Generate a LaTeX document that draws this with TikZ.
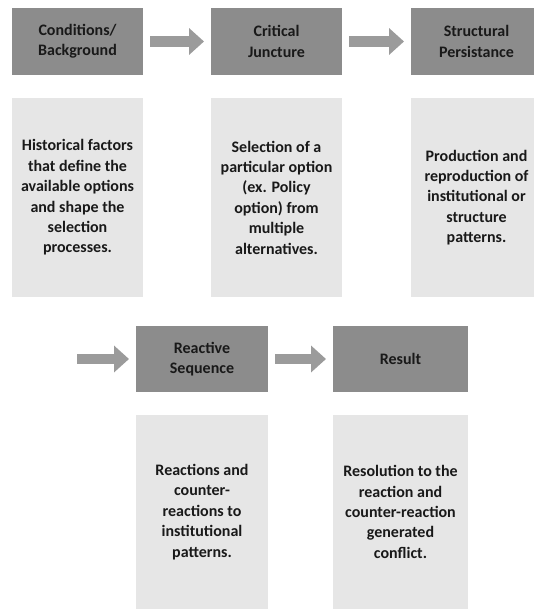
\documentclass[tikz,border=0pt]{standalone}
\usepackage{fontspec}
\setmainfont{Carlito}
\usepackage{tikz}
\usetikzlibrary{positioning,arrows.meta}
\definecolor{headgray}{HTML}{8C8C8C}
\definecolor{bodygray}{HTML}{E6E6E6}
\definecolor{arrowgray}{HTML}{9B9B9B}

\begin{document}
\begin{tikzpicture}[x=1pt,y=-1pt,
  head/.style={fill=headgray,text=black!90,minimum width=131pt,minimum height=67pt,inner sep=0pt,outer sep=0pt,align=center,font=\fontsize{16}{20.4}\selectfont\bfseries},
  body/.style={fill=bodygray,text=black!90,minimum width=131pt,minimum height=199pt,inner sep=0pt,outer sep=0pt,align=center,font=\fontsize{16}{20.4}\selectfont\bfseries},
  flow/.style={arrowgray,line width=10.5pt,shorten <=7pt,shorten >=7pt,-{Triangle[length=15pt,width=26pt]}}]
\useasboundingbox (0,0) rectangle (534,610);
\node[head] (cond) at (77.5,41.5) {Conditions/\\Background};
\node[head] (crit) at (276.5,41.5) {Critical\\Juncture};
\node[head] (pers) at (476.5,41.5) {Structural\\Persistance};
\node[body] (condtxt) at (77.5,197.5) {Historical factors\\that define the\\available options\\and shape the\\selection\\processes.};
\node[body] (crittxt) at (276.5,197.5) {Selection of a\\particular option\\(ex. Policy\\option) from\\multiple\\alternatives.};
\node[body] (perstxt) at (476.5,197.5) {Production and\\reproduction of\\institutional or\\structure\\patterns.};
\coordinate (entry) at (70,359);
\node[head,minimum width=132pt,minimum height=66pt] (react) at (202,359) {Reactive\\Sequence};
\node[head,minimum width=135pt,minimum height=66pt] (result) at (400.5,359) {Result};
\node[body,minimum width=132pt,minimum height=194pt] (reacttxt) at (202,512) {Reactions and\\counter-\\reactions to\\institutional\\patterns.};
\node[body,minimum width=135pt,minimum height=194pt] (resulttxt) at (400.5,512) {Resolution to the\\reaction and\\counter-reaction\\generated\\conflict.};
\draw[flow] (cond) -- (crit);
\draw[flow] (crit) -- (pers);
\draw[flow] (entry) -- (react);
\draw[flow] (react) -- (result);
\end{tikzpicture}
\end{document}
